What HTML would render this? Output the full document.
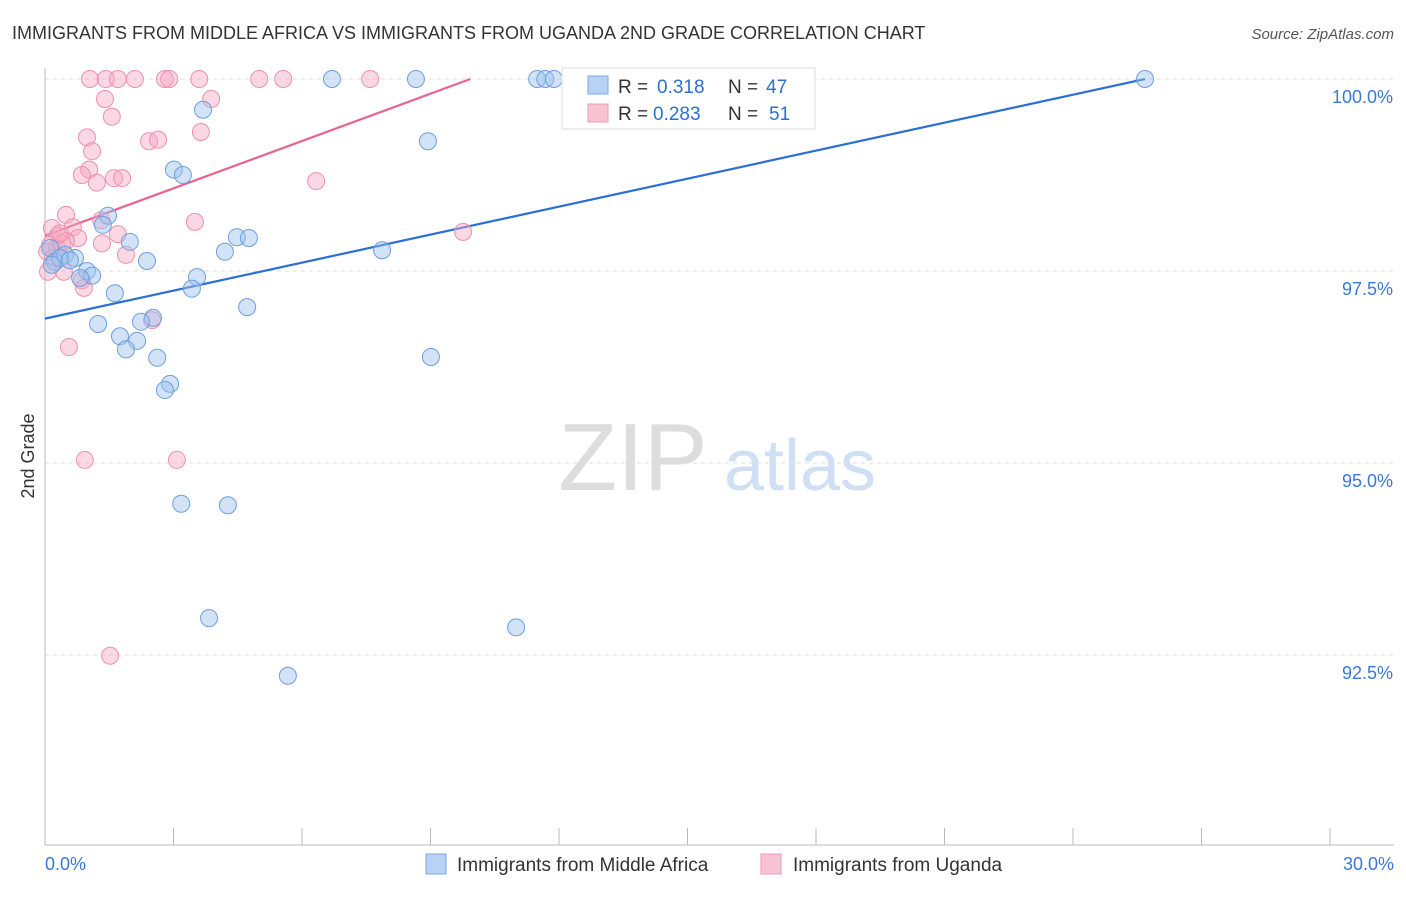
<!DOCTYPE html>
<html><head><meta charset="utf-8"><style>
body{margin:0;background:#fff;font-family:"Liberation Sans",sans-serif;}
svg text{font-family:"Liberation Sans",sans-serif;}
</style></head><body>
<svg id="chart" width="1406" height="892" xmlns="http://www.w3.org/2000/svg">
<text x="12" y="39" font-size="18" fill="#333">IMMIGRANTS FROM MIDDLE AFRICA VS IMMIGRANTS FROM UGANDA 2ND GRADE CORRELATION CHART</text>
<text x="1394" y="39" font-size="15" fill="#555" text-anchor="end" font-style="italic">Source: ZipAtlas.com</text>
<text x="34" y="456" font-size="18" fill="#333" text-anchor="middle" transform="rotate(-90 34 456)">2nd Grade</text>
<g>
<text x="633" y="490" font-size="96" fill="#ddd" text-anchor="middle" font-family="Liberation Serif, serif">ZIP</text>
<text x="800" y="490" font-size="72" fill="#cfe0f5" text-anchor="middle">atlas</text>
</g>
<g id="grid"></g><g id="axes"></g><g id="lines"></g><g id="points"></g>
<g>
<rect x="562" y="68" width="253" height="61" fill="#fff" stroke="#ddd"/>
<rect x="588" y="76" width="20" height="18" fill="#b7d2f5" stroke="#7aa7e3"/>
<text x="618" y="93" font-size="19" fill="#333">R = </text><text x="657" y="93" font-size="19" fill="#2a6fd6">0.318</text>
<text x="728" y="93" font-size="19" fill="#333">N = </text><text x="766" y="93" font-size="19" fill="#2a6fd6">47</text>
<rect x="588" y="104" width="20" height="18" fill="#f8c4d4" stroke="#f09ab6"/>
<text x="618" y="120" font-size="19" fill="#333">R = </text><text x="653" y="120" font-size="19" fill="#2a6fd6">0.283</text>
<text x="728" y="120" font-size="19" fill="#333">N = </text><text x="769" y="120" font-size="19" fill="#2a6fd6">51</text>
</g>
<g>
<rect x="426" y="854" width="20" height="20" fill="#b7d2f5" stroke="#7aa7e3"/>
<text x="457" y="871" font-size="19" fill="#333">Immigrants from Middle Africa</text>
<rect x="761" y="854" width="20" height="20" fill="#f8c4d4" stroke="#f09ab6"/>
<text x="793" y="871" font-size="19" fill="#333">Immigrants from Uganda</text>
</g>
</svg>
<script>
const blueX=[6.70,8.66,11.49,11.68,11.88,25.68,3.69,8.94,3.01,3.22,1.47,1.35,1.98,4.48,4.76,4.20,7.87,2.38,0.12,0.23,0.47,0.70,0.98,1.10,0.82,3.55,3.43,1.63,4.72,1.24,2.52,2.24,1.75,2.15,1.89,2.62,9.01,2.92,2.80,3.18,4.27,3.83,11.00,5.67,0.35,0.58,0.16];
const blueY=[100,100,100,100,100,100,99.60,99.19,98.82,98.75,98.22,98.10,97.88,97.94,97.93,97.75,97.77,97.63,97.80,97.62,97.71,97.67,97.50,97.44,97.41,97.42,97.27,97.21,97.03,96.81,96.89,96.84,96.65,96.59,96.48,96.37,96.38,96.03,95.95,94.47,94.45,92.98,92.86,92.23,97.67,97.64,97.58];
const pinkX=[1.05,1.42,1.70,2.10,2.80,2.90,3.60,5.00,5.56,7.59,1.40,3.88,1.56,3.64,0.98,2.43,2.64,1.10,1.03,0.86,1.21,1.61,1.80,0.49,3.50,1.31,0.16,0.65,0.30,0.77,1.70,0.49,1.33,0.12,0.28,1.89,0.05,0.19,0.07,0.44,0.86,0.91,6.33,9.76,2.50,0.56,0.93,3.08,1.52,0.40,0.35];
const pinkY=[100,100,100,100,100,100,100,100,100,100,99.74,99.74,99.51,99.31,99.24,99.19,99.21,99.06,98.82,98.75,98.65,98.71,98.71,98.23,98.14,98.16,98.06,98.07,97.96,97.93,97.98,97.89,97.86,97.84,97.80,97.71,97.75,97.67,97.49,97.49,97.38,97.28,98.67,98.01,96.86,96.51,95.04,95.04,92.49,97.86,97.99];
const blueTrendX=[0,25.68];
const blueTrendY=[96.88,100];
const pinkTrendX=[0,9.93];
const pinkTrendY=[97.96,100];
const yTicks=[100,97.5,95,92.5];
const yTickLabels=["100.0%","97.5%","95.0%","92.5%"];
const xTicks=[0,3,6,9,12,15,18,21,24,27,30];
const NS="http://www.w3.org/2000/svg";
const sx=v=>45+v/30*1285;
const sy=v=>79+(100-v)/2.5*192;
function mk(tag,attrs,parent){const e=document.createElementNS(NS,tag);for(const k in attrs)e.setAttribute(k,attrs[k]);parent.appendChild(e);return e;}
const grid=document.getElementById('grid'),axes=document.getElementById('axes'),lines=document.getElementById('lines'),pts=document.getElementById('points');
yTicks.forEach((t,i)=>{
 const l=mk('line',{x1:45,x2:1394,y1:sy(t),y2:sy(t),stroke:'#ddd','stroke-dasharray':'4,4'},grid);
 
 
 const tx=mk('text',{x:1393,y:sy(t)+24,'font-size':18,fill:'#3a78d8','text-anchor':'end'},axes);
 tx.textContent=yTickLabels[i];
 
 
});
const ax=mk('line',{x1:45,x2:1394,y1:845,y2:845,stroke:'#bbb'},axes);


const ay=mk('line',{x1:45,x2:45,y1:68,y2:845,stroke:'#bbb'},axes);


xTicks.forEach(t=>{
 const l=mk('line',{x1:sx(t),x2:sx(t),y1:828,y2:845,stroke:'#bbb'},axes);
 
 
});
const xl0=mk('text',{x:45,y:870,'font-size':18,fill:'#3a78d8'},axes);xl0.textContent='0.0%';


const xl1=mk('text',{x:1394,y:870,'font-size':18,fill:'#3a78d8','text-anchor':'end'},axes);xl1.textContent='30.0%';


function dots(X,Y,fill,stroke,name){X.forEach((x,i)=>{
 const c=mk('circle',{cx:sx(x),cy:sy(Y[i]),r:8.5,fill:fill,'fill-opacity':0.45,stroke:stroke,'stroke-width':1},pts);
 
 
});}
dots(pinkX,pinkY,'#f7a8c2','#ef8fb0','uganda-point');
dots(blueX,blueY,'#9cc0ee','#6d9fe0','middle-africa-point');
const bl=mk('line',{x1:sx(blueTrendX[0]),y1:sy(blueTrendY[0]),x2:sx(blueTrendX[1]),y2:sy(blueTrendY[1]),stroke:'#2a6fd6','stroke-width':2.2},lines);


const pl=mk('line',{x1:sx(pinkTrendX[0]),y1:sy(pinkTrendY[0]),x2:sx(pinkTrendX[1]),y2:sy(pinkTrendY[1]),stroke:'#e8648e','stroke-width':2.2},lines);


</script>
</body></html>
